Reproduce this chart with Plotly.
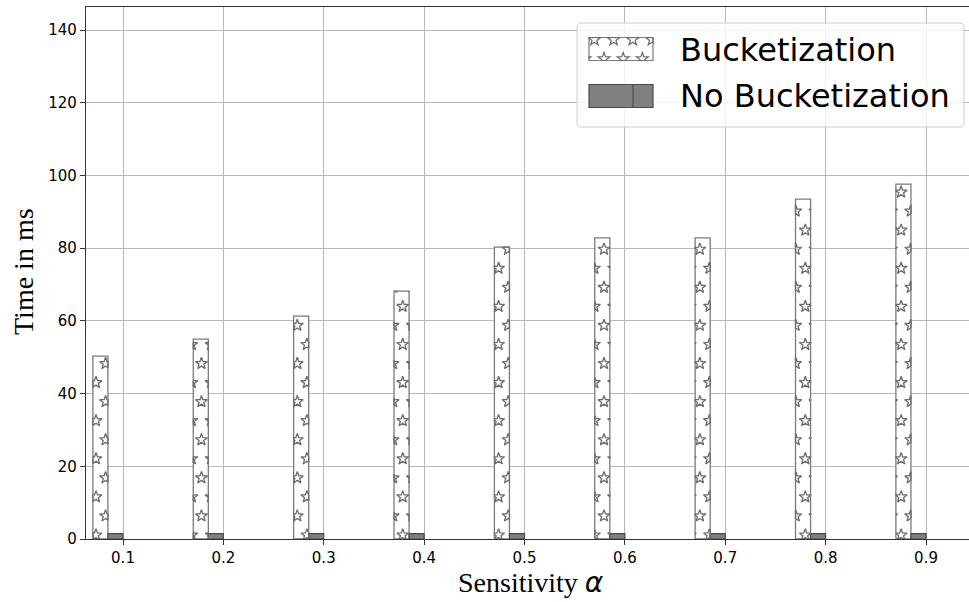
import math
import plotly.graph_objects as go

# ---- data -------------------------------------------------------------
alphas = [0.1, 0.2, 0.3, 0.4, 0.5, 0.6, 0.7, 0.8, 0.9]
alpha_labels = ["0.1", "0.2", "0.3", "0.4", "0.5", "0.6", "0.7", "0.8", "0.9"]
bucketization_ms = [50.3, 55.0, 61.3, 68.2, 80.3, 82.8, 82.8, 93.5, 97.6]
no_bucketization_ms = [1.5, 1.5, 1.5, 1.5, 1.5, 1.5, 1.5, 1.5, 1.5]
y_ticks = [0, 20, 40, 60, 80, 100, 120, 140]
series_names = ["Bucketization", "No Bucketization"]

# ---- geometry -----------------------------------------------------------
FIG_W, FIG_H = 969, 602
M_L, M_R, M_T, M_B = 86, 0, 7, 63
PLOT_W = FIG_W - M_L - M_R
PLOT_H = FIG_H - M_T - M_B
X_RANGE = [0.063138, 0.94284]
Y_RANGE = [0.0, 146.33]
BAR_W = 0.015
OFFSET_BUCKET = -0.030
OFFSET_NOBUCKET = -0.015

STAR_GREY = "#6c6c6c"
EDGE_GREY = "#7a7a7a"
SPINE = "#333333"
GRID = "#b8b8b8"


def x_to_px(x):
    return M_L + (x - X_RANGE[0]) / (X_RANGE[1] - X_RANGE[0]) * PLOT_W


def y_to_px(y):
    return M_T + (Y_RANGE[1] - y) / (Y_RANGE[1] - Y_RANGE[0]) * PLOT_H


def px_to_x(px):
    return X_RANGE[0] + (px - M_L) / PLOT_W * (X_RANGE[1] - X_RANGE[0])


def px_to_y(py):
    return Y_RANGE[1] - (py - M_T) / PLOT_H * (Y_RANGE[1] - Y_RANGE[0])


def px_to_paper(px, py):
    return (px - M_L) / PLOT_W, (M_T + PLOT_H - py) / PLOT_H


# ---- star hatch ---------------------------------------------------------
ROW_STEP = 19.05
ROW0_Y = 535.0
COL_STEP = 19.17
EVEN_X0 = 96.0
ODD_X0 = EVEN_X0 + COL_STEP / 2
R_OUT, R_IN = 6.3, 2.5


def star_polygon(cx, cy):
    pts = []
    for i in range(10):
        a = -math.pi / 2 + i * math.pi / 5
        r = R_OUT if i % 2 == 0 else R_IN
        pts.append((cx + r * math.cos(a), cy + r * math.sin(a)))
    return pts


def clip_polygon(poly, x0, x1, y0, y1):
    def clip_edge(pts, inside, intersect):
        out = []
        n = len(pts)
        for i in range(n):
            cur, prev = pts[i], pts[i - 1]
            if inside(cur):
                if not inside(prev):
                    out.append(intersect(prev, cur))
                out.append(cur)
            elif inside(prev):
                out.append(intersect(prev, cur))
        return out

    def ix(xc):
        return lambda p, q: (xc, p[1] + (q[1] - p[1]) * (xc - p[0]) / (q[0] - p[0]))

    def iy(yc):
        return lambda p, q: (p[0] + (q[0] - p[0]) * (yc - p[1]) / (q[1] - p[1]), yc)

    pts = poly
    for inside, inter in (
        (lambda p: p[0] >= x0, ix(x0)),
        (lambda p: p[0] <= x1, ix(x1)),
        (lambda p: p[1] >= y0, iy(y0)),
        (lambda p: p[1] <= y1, iy(y1)),
    ):
        if not pts:
            break
        pts = clip_edge(pts, inside, inter)
    return pts


def hatch_stars(x0, x1, y0, y1):
    """Star outlines of the global hatch lattice, clipped to a pixel rect."""
    polys = []
    k_lo = math.floor((ROW0_Y - y1 - R_OUT) / ROW_STEP)
    k_hi = math.ceil((ROW0_Y - y0 + R_OUT) / ROW_STEP)
    for k in range(k_lo, k_hi + 1):
        cy = ROW0_Y - k * ROW_STEP
        phase = EVEN_X0 if k % 2 == 0 else ODD_X0
        n_lo = math.floor((x0 - R_OUT - phase) / COL_STEP)
        n_hi = math.ceil((x1 + R_OUT - phase) / COL_STEP)
        for n in range(n_lo, n_hi + 1):
            cx = phase + n * COL_STEP
            clipped = clip_polygon(star_polygon(cx, cy), x0, x1, y0, y1)
            if len(clipped) >= 3:
                polys.append(clipped)
    return polys


fig = go.Figure()

fig.add_trace(go.Bar(
    x=alphas, y=bucketization_ms, name=series_names[0],
    width=BAR_W, offset=OFFSET_BUCKET,
    marker=dict(color="white", line=dict(color=EDGE_GREY, width=1.3)),
    showlegend=False,
))
fig.add_trace(go.Bar(
    x=alphas, y=no_bucketization_ms, name=series_names[1],
    width=BAR_W, offset=OFFSET_NOBUCKET,
    marker=dict(color="#808080", line=dict(color="#4a4a4a", width=1.2)),
    showlegend=False,
))

# star hatch inside the Bucketization bars
sx, sy = [], []
for a, v in zip(alphas, bucketization_ms):
    left = x_to_px(a + OFFSET_BUCKET)
    right = x_to_px(a + OFFSET_BUCKET + BAR_W)
    top = y_to_px(v)
    bottom = y_to_px(0)
    for poly in hatch_stars(left, right, top, bottom):
        for px, py in poly + [poly[0]]:
            sx.append(px_to_x(px))
            sy.append(px_to_y(py))
        sx.append(None)
        sy.append(None)

fig.add_trace(go.Scatter(
    x=sx, y=sy, mode="lines",
    line=dict(color=STAR_GREY, width=1.3),
    hoverinfo="skip", showlegend=False,
))

# ---- custom legend --------------------------------------------------------
shapes = []


def rect_shape(x0, y0, x1, y1, **kw):
    a0, b0 = px_to_paper(x0, y1)
    a1, b1 = px_to_paper(x1, y0)
    return dict(type="rect", xref="paper", yref="paper",
                x0=a0, y0=b0, x1=a1, y1=b1, layer="above", **kw)


def path_from_px(points, closed=True):
    parts = []
    for i, (px, py) in enumerate(points):
        a, b = px_to_paper(px, py)
        parts.append(("M" if i == 0 else "L") + f"{a:.5f},{b:.5f}")
    return " ".join(parts) + (" Z" if closed else "")


# rounded legend frame
LX0, LX1, LY0, LY1, RAD = 577, 964, 23, 127, 4
frame = []
for cx, cy, a0 in ((LX1 - RAD, LY0 + RAD, -90), (LX1 - RAD, LY1 - RAD, 0),
                   (LX0 + RAD, LY1 - RAD, 90), (LX0 + RAD, LY0 + RAD, 180)):
    for s in range(7):
        ang = math.radians(a0 + s * 15)
        frame.append((cx + RAD * math.cos(ang), cy + RAD * math.sin(ang)))
shapes.append(dict(type="path", xref="paper", yref="paper", layer="above",
                   path=path_from_px(frame),
                   fillcolor="rgba(255,255,255,0.8)",
                   line=dict(color="#cccccc", width=1)))

# Bucketization patch
P_X0, P_X1 = 589, 653
shapes.append(rect_shape(P_X0, 37.5, P_X1, 60.5, fillcolor="white",
                         line=dict(color=EDGE_GREY, width=1.2)))
for poly in hatch_stars(P_X0, P_X1, 37.5, 60.5):
    shapes.append(dict(type="path", xref="paper", yref="paper", layer="above",
                       path=path_from_px(poly),
                       line=dict(color=STAR_GREY, width=1.2)))

# No Bucketization patch
shapes.append(rect_shape(P_X0, 84.5, P_X1, 107.5, fillcolor="#808080",
                         line=dict(color="#4a4a4a", width=1.2)))
shapes.append(dict(type="path", xref="paper", yref="paper", layer="above",
                   path=path_from_px([(633, 84.5), (633, 107.5)], closed=False),
                   line=dict(color="#4a4a4a", width=1.1)))

annotations = []
for name, cy in zip(series_names, [49.5, 96.0]):
    ax, ay = px_to_paper(678, cy)
    annotations.append(dict(
        text=name, xref="paper", yref="paper", x=ax, y=ay,
        xanchor="left", yanchor="middle", showarrow=False,
        font=dict(family="DejaVu Sans", size=32, color="black"),
    ))

# axis titles
tx, ty = px_to_paper(531, 582)
annotations.append(dict(
    text="Sensitivity <span style='font-family:DejaVu Sans'><i>α</i></span>",
    xref="paper", yref="paper", x=tx, y=ty, xanchor="center", yanchor="middle",
    showarrow=False, font=dict(family="Liberation Serif", size=28, color="black"),
))
tx, ty = px_to_paper(23, 272)
annotations.append(dict(
    text="Time in ms", xref="paper", yref="paper", x=tx, y=ty, textangle=-90,
    xanchor="center", yanchor="middle", showarrow=False,
    font=dict(family="Liberation Serif", size=28, color="black"),
))

fig.update_layout(
    width=FIG_W, height=FIG_H,
    margin=dict(l=M_L, r=M_R, t=M_T, b=M_B, pad=0),
    plot_bgcolor="white", paper_bgcolor="white",
    barmode="overlay",
    shapes=shapes, annotations=annotations,
    font=dict(family="DejaVu Sans", size=15, color="black"),
)
fig.update_xaxes(
    range=X_RANGE, tickvals=alphas, ticktext=alpha_labels,
    showgrid=True, gridcolor=GRID, gridwidth=1,
    showline=True, linecolor=SPINE, linewidth=1.3, mirror=True,
    ticks="outside", ticklen=5, tickwidth=1.2, tickcolor=SPINE,
    zeroline=False,
)
fig.update_yaxes(
    range=Y_RANGE, tickvals=y_ticks,
    showgrid=True, gridcolor=GRID, gridwidth=1,
    showline=True, linecolor=SPINE, linewidth=1.3,
    ticks="outside", ticklen=5, tickwidth=1.2, tickcolor=SPINE,
    zeroline=False,
)

fig.write_html("out.html")
